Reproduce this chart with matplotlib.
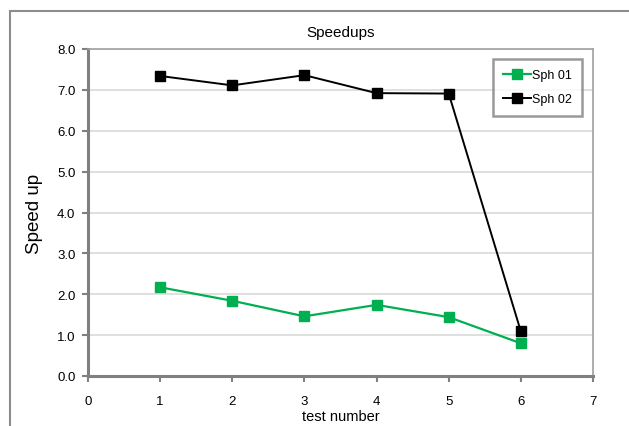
import matplotlib
matplotlib.use("Agg")
import matplotlib.pyplot as plt
from matplotlib.patches import Rectangle

plt.rcParams['font.family'] = ['Liberation Sans', 'DejaVu Sans']

tests = [1, 2, 3, 4, 5, 6]
sph01 = [2.17, 1.84, 1.46, 1.74, 1.44, 0.80]
sph02 = [7.34, 7.11, 7.36, 6.92, 6.91, 1.09]
xticks = [0, 1, 2, 3, 4, 5, 6, 7]
yticks = [0, 1, 2, 3, 4, 5, 6, 7, 8]

W, H = 629, 427
fig = plt.figure(figsize=(W/100, H/100), dpi=100)
ax = fig.add_axes([88/W, 1-377/H, (593-88)/W, (377-50)/H])

ax.plot(tests, sph01, color='#00B050', lw=1.6, marker='s', ms=6.5, label='Sph 01', zorder=3)
ax.plot(tests, sph02, color='black', lw=1.4, marker='s', ms=6.5, label='Sph 02', zorder=3)

ax.set_xlim(0, 7)
ax.set_ylim(0, 8)
ax.set_xticks(xticks)
ax.set_yticks(yticks)
ax.set_yticklabels([f"{v:.1f}" for v in yticks])
ax.tick_params(axis='both', labelsize=9.5, direction='out', length=4, color='#808080', width=1.5)
ax.tick_params(axis='x', pad=10)
ax.tick_params(axis='y', pad=5)
ax.yaxis.grid(True, color='#d9d9d9', lw=1.2)
ax.set_axisbelow(True)
for s in ['left', 'bottom']:
    ax.spines[s].set_color('#808080')
    ax.spines[s].set_linewidth(2.2)
for s in ['top', 'right']:
    ax.spines[s].set_color('#a0a0a0')
    ax.spines[s].set_linewidth(1.2)

ax.set_title('Speedups', fontsize=11, pad=9)
ax.set_xlabel('test number', fontsize=10.5, labelpad=1)
ax.set_ylabel('Speed up', fontsize=13.5, labelpad=10)

leg = ax.legend(loc='upper right', bbox_to_anchor=(582/W, 1-60/H), bbox_transform=fig.transFigure,
                fontsize=9, frameon=True, fancybox=False, handlelength=2.2, borderpad=0.8,
                labelspacing=1.0, handletextpad=0.1, borderaxespad=0)
leg.get_frame().set_edgecolor('#808080')
leg.get_frame().set_linewidth(1.8)

fig.patches.append(Rectangle((10/W, -0.1), 1.2, 1-12/H+0.1, transform=fig.transFigure,
                             fill=False, edgecolor='#8c8c8c', lw=1.5, clip_on=False))

fig.savefig('out.png', dpi=100)
